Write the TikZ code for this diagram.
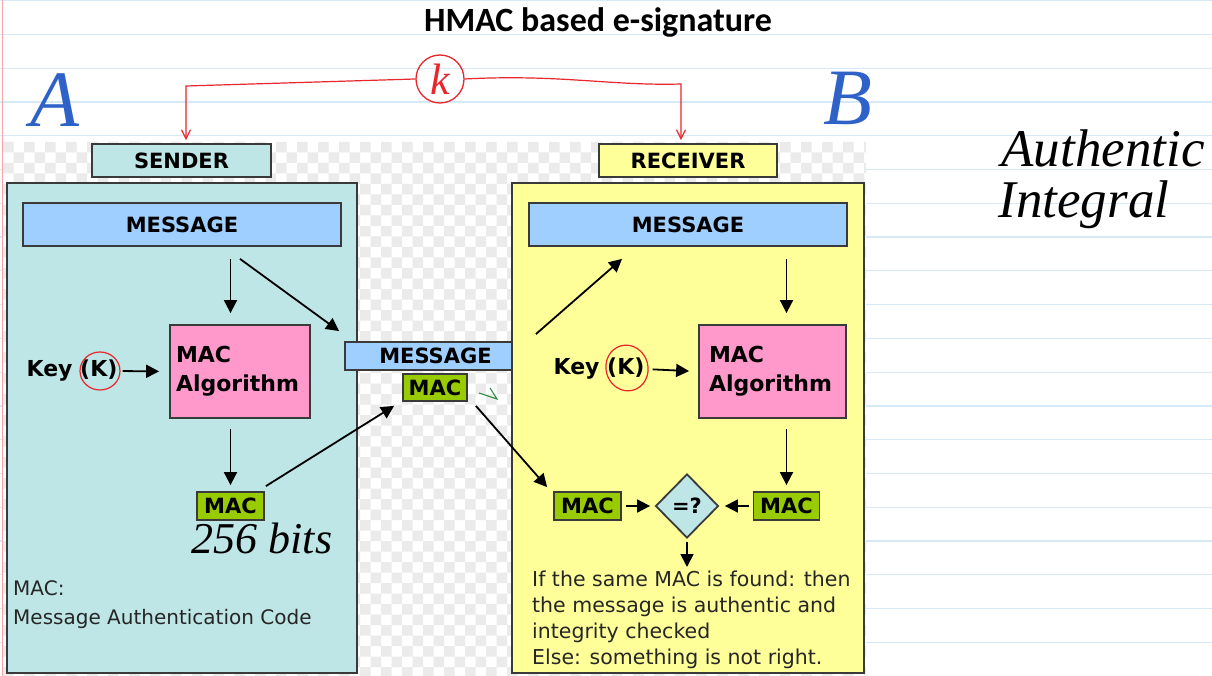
\documentclass[tikz,border=0pt]{standalone}
\usepackage{fontspec}
\setmainfont{DejaVu Sans}
\newfontfamily\titlefont{Carlito}
\newfontfamily\handfont{Liberation Serif}
\usetikzlibrary{positioning, shapes.geometric, arrows.meta}

\definecolor{sendfill}{HTML}{BFE6E6}
\definecolor{recvfill}{HTML}{FFFF99}
\definecolor{msgfill}{HTML}{9FCFFF}
\definecolor{algfill}{HTML}{FF99CC}
\definecolor{macfill}{HTML}{99CC00}
\definecolor{edge}{HTML}{3A3A3A}
\definecolor{ruled}{HTML}{D5E9F7}
\definecolor{margin}{HTML}{F4A6A6}
\definecolor{checker}{HTML}{EBEBEB}
\definecolor{penblue}{HTML}{2F62C8}
\definecolor{penred}{HTML}{E8262B}
\definecolor{pengreen}{HTML}{1E8A3C}

\begin{document}
\begin{tikzpicture}[x=1pt, y=-1pt,
    box/.style={draw=edge, line width=1.8pt, inner sep=0pt},
    lbl/.style={font=\fontsize{21}{25}\selectfont\bfseries},
    alg/.style={font=\fontsize{22}{29}\selectfont\bfseries, align=left},
    arr/.style={-{Triangle[length=13pt,width=13pt]}, line width=1.8pt},
    ink/.style={penred, line width=1.2pt},
    hand/.style={font=\handfont\itshape\fontsize{#1}{#1}\selectfont}]
    \useasboundingbox (0,0) rectangle (1212,676);
    \fill[white] (0,0) rectangle (1212,676);

    % ruled page and transparent canvas
    \foreach \k in {0,...,20}
        \draw[ruled, line width=1.2pt] (0,0.7+33.77*\k) -- (1212,0.7+33.77*\k);
    \begin{scope}
        \clip (3,142) rectangle (866,676);
        \fill[white] (3,142) rectangle (866,676);
        \foreach \i in {0,...,41}
            \foreach \j in {0,...,25}
                \fill[checker] (3+21*\i,142+21*\j) rectangle ++(10.5,10.5)
                               (13.5+21*\i,152.5+21*\j) rectangle ++(10.5,10.5);
    \end{scope}
    \draw[margin, line width=1pt] (2,0) -- (2,676);

    \node[font=\titlefont\bfseries\fontsize{34}{40}\selectfont] (title) at (598,22) {HMAC based e-signature};

    % sender side
    \node[box, fill=sendfill, minimum width=179pt, minimum height=33pt, lbl]  (S0) at (181.5,160.5) {SENDER};
    \node[box, fill=sendfill, minimum width=350pt, minimum height=490pt]      (SB) at (182,428)     {};
    \node[box, fill=msgfill, minimum width=318pt, minimum height=43pt, lbl]   (S1) at (182,224.5)   {MESSAGE};
    \node[box, fill=algfill, minimum width=140pt, minimum height=93pt, alg, text width=128pt] (S2) at (240,371.5) {MAC\\Algorithm};
    \node[alg, inner sep=0pt]                                                 (S3) at (72,371)      {Key (K)};
    \node[box, fill=macfill, minimum width=67pt, minimum height=28pt, lbl]    (S4) at (230.5,506)   {MAC};
    \node[anchor=north west, inner sep=0pt, align=left, font=\fontsize{20}{29}\selectfont, text=black!85] (S5) at (13,580) {MAC:\\Message Authentication Code};

    % in transit
    \node[box, fill=msgfill, minimum width=181pt, minimum height=28pt, lbl]   (M1) at (435.5,356)   {MESSAGE};
    \node[box, fill=macfill, minimum width=64pt, minimum height=27pt, lbl]    (M2) at (435,387.5)   {MAC};

    % receiver side
    \node[box, fill=recvfill, minimum width=178pt, minimum height=33pt, lbl]  (R0) at (688,160.5)   {RECEIVER};
    \node[box, fill=recvfill, minimum width=352pt, minimum height=490pt]      (RB) at (688,428)     {};
    \node[box, fill=msgfill, minimum width=318pt, minimum height=43pt, lbl]   (R1) at (688,224.5)   {MESSAGE};
    \node[box, fill=algfill, minimum width=147pt, minimum height=93pt, alg, text width=127pt] (R2) at (772.5,371.5) {MAC\\Algorithm};
    \node[alg, inner sep=0pt]                                                 (R3) at (599,369)     {Key (K)};
    \node[box, fill=macfill, minimum width=66pt, minimum height=28pt, lbl]    (R4) at (786.5,506)   {MAC};
    \node[box, diamond, fill=sendfill, minimum width=63pt, minimum height=64pt, lbl] (R5) at (687,506) {=?};
    \node[box, fill=macfill, minimum width=67pt, minimum height=28pt, lbl]    (R6) at (587.5,506)   {MAC};
    \node[anchor=north west, inner sep=0pt, align=left, font=\fontsize{20.5}{26}\selectfont, text=black!85] (R7) at (532,571) {If the same MAC is found: then\\the message is authentic and\\integrity checked\\Else: something is not right.};

    \draw[arr, shorten <=12pt, shorten >=11pt] (S1.south -| S4.north) -- (S2.north -| S4.north);
    \draw[arr, shorten <=10pt, shorten >=6pt]  (S2.south -| S4.north) -- (S4.north);
    \draw[arr, shorten <=5pt, shorten >=10pt]  (S3.east) -- (S2.west);
    \draw[arr] ([shift={(58,12)}]S1.south) -- ([shift={(-5,-10)}]M1.north west);
    \draw[arr] ([shift={(1,-5)}]S4.north east) -- ([shift={(-8,4)}]M2.south west);
    \draw[arr] ([shift={(8,4)}]M2.south east) -- ([shift={(-6,-4)}]R6.north west);
    \draw[arr] ([shift={(9,-7)}]M1.north east) -- ([shift={(-66,12)}]R1.south);
    \draw[arr, shorten <=12pt, shorten >=11pt] (R1.south -| R4.north) -- (R2.north -| R4.north);
    \draw[arr, shorten <=10pt, shorten >=6pt]  (R2.south -| R4.north) -- (R4.north);
    \draw[arr, shorten <=8pt, shorten >=9pt]   (R3.east) -- (R2.west);
    \draw[arr, shorten <=4pt, shorten >=4.5pt] (R6.east) -- (R5.west);
    \draw[arr, shorten <=4pt, shorten >=5.5pt] (R4.west) -- (R5.east);
    \draw[arr, shorten <=3pt, shorten >=4pt]   (R5.south) -- (R5.south |- R7.north);

    % pen notes
    \node[hand=80, text=penblue]          (penA) at (55,100)  {A};
    \node[hand=80, text=penblue]          (penB) at (848,98)  {B};
    \node[circle, draw=penred, line width=1.3pt, minimum size=48pt, inner sep=0pt, text=penred, hand=44] (key) at (440,79) {k};
    \coordinate (kl) at (186,86);
    \coordinate (kr) at (681,84);
    \draw[ink, -{Straight Barb[length=9pt,width=9pt]}, shorten >=3pt] (key.west) -- (kl) -- (kl |- S0.north);
    \draw[ink, -{Straight Barb[length=9pt,width=9pt]}, shorten >=3pt] (key.east) .. controls (560,74) and (610,86) .. (kr) -- (kr |- R0.north);
    \draw[ink] (100,371) ellipse (20pt and 19pt);
    \draw[ink, rotate around={15:(627,368)}] (627,368) ellipse (21pt and 23pt);
    \draw[pengreen, line width=1pt] (479,393) -- (497,399) -- (490,388);
    \node[hand=44, anchor=west]           (bits)  at (188,538) {256 bits};
    \node[hand=53, anchor=west]           (note1) at (998,148) {Authentic};
    \node[hand=53, anchor=west]           (note2) at (995,205) {Integral};
\end{tikzpicture}
\end{document}
